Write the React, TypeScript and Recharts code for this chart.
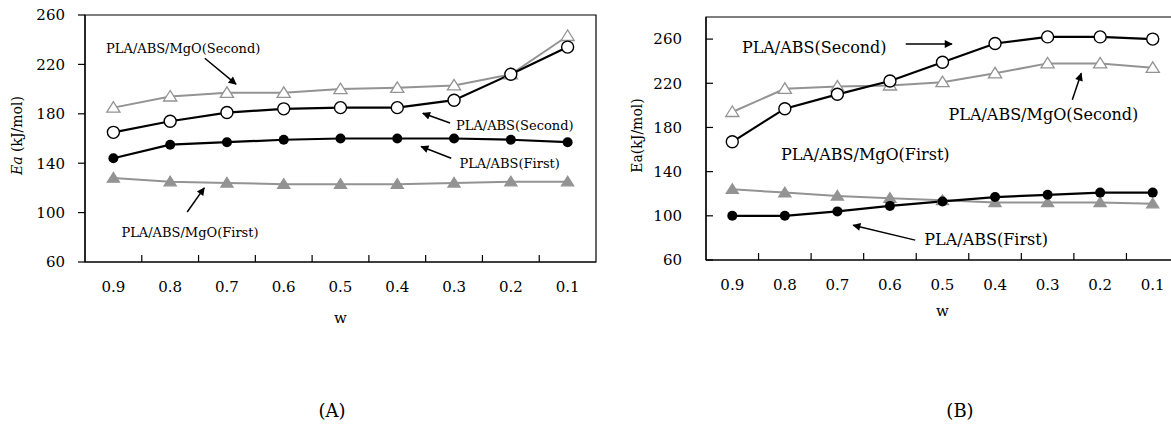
import * as React from 'react';
import {
    LineChart,
    Line,
    XAxis,
    YAxis,
    ReferenceArea,
    ReferenceLine,
    ReferenceDot
} from 'recharts';

const wLabels = ['0.9', '0.8', '0.7', '0.6', '0.5', '0.4', '0.3', '0.2', '0.1'];

// panel A
const absFirstA = [144, 155, 157, 159, 160, 160, 160, 159, 157];
const absSecondA = [165, 174, 181, 184, 185, 185, 191, 212, 234];
const mgoFirstA = [128, 125, 124, 123, 123, 123, 124, 125, 125];
const mgoSecondA = [185, 194, 197, 197, 200, 201, 203, 212, 243];

// panel B
const absFirstB = [100, 100, 104, 109, 113, 117, 119, 121, 121];
const absSecondB = [167, 197, 210, 222, 239, 256, 262, 262, 260];
const mgoFirstB = [124, 121, 118, 116, 114, 112, 112, 112, 111];
const mgoSecondB = [194, 215, 217, 218, 221, 229, 238, 238, 234];

const ticksA = [60, 100, 140, 180, 220, 260];
const ticksB = [60, 100, 140, 180, 220, 260];

// x positions: category i sits at i, boundaries at i +/- 0.5
const xTicks: number[] = [];
wLabels.forEach((_, i) => {
    if (i > 0) xTicks.push(i - 0.5);
    xTicks.push(i);
});
const X_MIN = -0.5;
const X_MAX = wLabels.length - 0.5;

const FONT = '"DejaVu Serif", "Liberation Serif", serif';
const GRAY = '#939393';

const buildRows = (a: number[], b: number[], c: number[], d: number[]) =>
    wLabels.map((w, i) => ({ pos: i, w, absFirst: a[i], absSecond: b[i], mgoFirst: c[i], mgoSecond: d[i] }));

const dataA = buildRows(absFirstA, absSecondA, mgoFirstA, mgoSecondA);
const dataB = buildRows(absFirstB, absSecondB, mgoFirstB, mgoSecondB);

// annotation text and arrows, in x-axis units
interface Note {
    text: string;
    x: number;
    y: number;
    arrow?: [number, number, number, number];
}

const notesA: Note[] = [
    { text: 'PLA/ABS/MgO(Second)', x: 1.23, y: 233, arrow: [1.61, 225, 2.16, 204] },
    { text: 'PLA/ABS(Second)', x: 7.07, y: 171, arrow: [5.93, 172.5, 5.45, 180.5] },
    { text: 'PLA/ABS(First)', x: 6.98, y: 140, arrow: [5.95, 144, 5.42, 153.5] },
    { text: 'PLA/ABS/MgO(First)', x: 1.35, y: 84, arrow: [1.3, 100.5, 1.6, 120] }
];

const notesB: Note[] = [
    { text: 'PLA/ABS(Second)', x: 1.56, y: 252.5, arrow: [3.3, 255.5, 4.18, 255.5] },
    { text: 'PLA/ABS/MgO(Second)', x: 5.92, y: 192, arrow: [6.47, 205, 6.64, 229] },
    { text: 'PLA/ABS/MgO(First)', x: 2.53, y: 155.5 },
    { text: 'PLA/ABS(First)', x: 4.83, y: 79, arrow: [3.48, 78, 2.3, 91.5] }
];

const OpenCircle = (r: number) => (p: any) => (
    <circle key={p.key} cx={p.cx} cy={p.cy} r={r} fill="#fff" stroke="#000" strokeWidth={1.4} />
);
const FullCircle = (r: number) => (p: any) => (
    <circle key={p.key} cx={p.cx} cy={p.cy} r={r} fill="#000" stroke="none" />
);
const Triangle = (s: number, filled: boolean) => (p: any) => (
    <polygon
        key={p.key}
        points={`${p.cx},${p.cy - s} ${p.cx - s * 1.1},${p.cy + s * 0.75} ${p.cx + s * 1.1},${p.cy + s * 0.75}`}
        fill={filled ? GRAY : '#fff'}
        stroke={GRAY}
        strokeWidth={1.3}
    />
);

// labels at category centres, short inward tick marks at the boundaries
const XTick = (props: any) => {
    const { x, y, payload } = props;
    const v = payload.value;
    if (Number.isInteger(v)) {
        return (
            <text x={x} y={y + 30} textAnchor="middle" fontFamily={FONT} fontSize={15} fill="#000">
                {wLabels[v]}
            </text>
        );
    }
    return <line x1={x} x2={x} y1={y} y2={y - 7} stroke="#000" strokeWidth={1.2} />;
};

const yLabel = (italic: boolean) => (props: any) => {
    const vb = props.viewBox;
    const cx = vb.x + 17;
    const cy = vb.y + vb.height / 2 - 3;
    return (
        <text
            x={cx}
            y={cy}
            transform={`rotate(-90 ${cx} ${cy})`}
            textAnchor="middle"
            dominantBaseline="central"
            fontFamily={FONT}
            fontSize={14}
            fill="#000"
        >
            {italic ? (
                <>
                    <tspan fontStyle="italic">Ea</tspan> (kJ/mol)
                </>
            ) : (
                'Ea(kJ/mol)'
            )}
        </text>
    );
};

interface PanelProps {
    data: any[];
    notes: Note[];
    ticks: number[];
    domain: [number, number];
    id: string;
    top: number;
    right: number;
    yWidth: number;
    xHeight: number;
    inward: boolean;
    noteSize: number;
    wOffset: number;
    dotR: number;
}

const Panel = (p: PanelProps) => (
    <LineChart
        width={620}
        height={330}
        data={p.data}
        margin={{ top: p.top, right: p.right, left: 0, bottom: 0 }}
    >
        <defs>
            <marker
                id={`arrow${p.id}`}
                viewBox="0 0 10 10"
                refX="9"
                refY="5"
                markerUnits="userSpaceOnUse"
                markerWidth="11"
                markerHeight="8"
                orient="auto"
            >
                <path d="M0,0 L10,5 L0,10 z" fill="#000" />
            </marker>
        </defs>
        <XAxis
            dataKey="pos"
            type="number"
            domain={[X_MIN, X_MAX]}
            ticks={xTicks}
            interval={0}
            allowDataOverflow
            axisLine={{ stroke: '#000', strokeWidth: 1.2 }}
            tickLine={false}
            tickSize={0}
            tickMargin={0}
            tick={XTick}
            height={p.xHeight}
            label={{ value: 'w', position: 'insideTop', offset: p.wOffset, fontFamily: FONT, fontSize: 15, fill: '#000' }}
        />
        <YAxis
            domain={p.domain}
            ticks={p.ticks}
            width={p.yWidth}
            tickSize={p.inward ? -7 : 7}
            tickMargin={p.inward ? 31 : 13}
            axisLine={{ stroke: '#000', strokeWidth: 1.2 }}
            tickLine={{ stroke: '#000', strokeWidth: 1.2 }}
            tick={{ fill: '#000', fontFamily: FONT, fontSize: 15 }}
            label={yLabel(p.id === 'A')}
            allowDataOverflow
        />
        <ReferenceArea
            x1={X_MIN}
            x2={X_MAX}
            y1={p.domain[0]}
            y2={p.domain[1]}
            ifOverflow="visible"
            fill="none"
            fillOpacity={0}
            stroke="#000"
            strokeWidth={1.2}
        />
        <Line
            dataKey="mgoSecond"
            stroke={GRAY}
            strokeWidth={2}
            dot={Triangle(p.dotR + 1, false)}
            isAnimationActive={false}
        />
        <Line
            dataKey="mgoFirst"
            stroke={GRAY}
            strokeWidth={2}
            dot={Triangle(p.dotR + 0.5, true)}
            isAnimationActive={false}
        />
        <Line
            dataKey="absSecond"
            stroke="#000"
            strokeWidth={2.2}
            dot={OpenCircle(p.dotR + 1)}
            isAnimationActive={false}
        />
        <Line
            dataKey="absFirst"
            stroke="#000"
            strokeWidth={2.2}
            dot={FullCircle(p.dotR)}
            isAnimationActive={false}
        />
        {p.notes.map(n =>
            n.arrow ? (
                <ReferenceLine
                    key={`l${n.text}`}
                    segment={[
                        { x: n.arrow[0], y: n.arrow[1] },
                        { x: n.arrow[2], y: n.arrow[3] }
                    ]}
                    stroke="#000"
                    strokeWidth={1.5}
                    markerEnd={`url(#arrow${p.id})`}
                />
            ) : null
        )}
        {p.notes.map(n => (
            <ReferenceDot
                key={`t${n.text}`}
                x={n.x}
                y={n.y}
                r={0}
                stroke="none"
                fill="none"
                label={{ value: n.text, position: 'center', fontFamily: FONT, fontSize: p.noteSize, fill: '#000' }}
            />
        ))}
    </LineChart>
);

const caption: React.CSSProperties = {
    position: 'absolute',
    top: 400,
    fontFamily: FONT,
    fontSize: 18,
    color: '#000',
    width: 60,
    textAlign: 'center'
};

export default function App() {
    return (
        <div
            style={{
                position: 'absolute',
                left: 0,
                top: 0,
                width: 1171,
                height: 436,
                overflow: 'hidden',
                background: '#fff'
            }}
        >
            <div style={{ position: 'absolute', left: 0, top: 0 }}>
                <Panel
                    data={dataA}
                    notes={notesA}
                    ticks={ticksA}
                    domain={[60, 260]}
                    id="A"
                    top={15}
                    right={24}
                    yWidth={85}
                    xHeight={68}
                    inward={false}
                    noteSize={13}
                    wOffset={50}
                    dotR={5}
                />
            </div>
            <div style={{ position: 'absolute', left: 620, top: 0 }}>
                <Panel
                    data={dataB}
                    notes={notesB}
                    ticks={ticksB}
                    domain={[60, 280]}
                    id="B"
                    top={17}
                    right={61}
                    yWidth={86}
                    xHeight={70}
                    inward={true}
                    noteSize={16}
                    wOffset={45}
                    dotR={5}
                />
            </div>
            <div style={{ ...caption, left: 302 }}>(A)</div>
            <div style={{ ...caption, left: 930 }}>(B)</div>
        </div>
    );
}
